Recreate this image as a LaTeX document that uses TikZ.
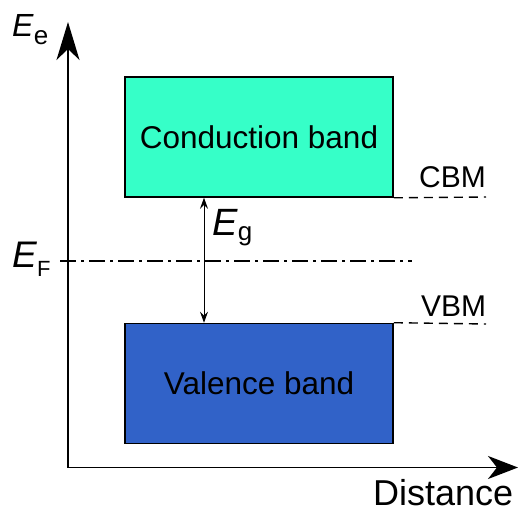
\documentclass[tikz,border=0pt]{standalone}
\usepackage{fontspec}
\setmainfont{Liberation Sans}
\usetikzlibrary{arrows.meta}
\definecolor{cbcolor}{RGB}{54,255,200}
\definecolor{vbcolor}{RGB}{49,98,200}
\tikzset{band/.style={draw=black,line width=1.6pt,minimum width=268pt,minimum height=120pt,inner sep=0pt,font=\fontsize{31.5}{31.5}\selectfont},
  axis/.style={line width=1.8pt},
  lbl/.style={inner sep=0pt,anchor=base west,font=\fontsize{30}{30}\selectfont},
  edge/.style={line width=1.4pt,dash pattern=on 9pt off 6pt}}
% energy symbol: size of E, size of index, drop of index, index
\newcommand{\Eof}[4]{{\fontsize{#1}{#1}\selectfont\textit{E}}\raisebox{-#3pt}{\fontsize{#2}{#2}\selectfont #4}}

\begin{document}
\begin{tikzpicture}[x=1pt,y=-1pt]
  \useasboundingbox (0,0) rectangle (520,513);

  % axes
  \coordinate (origin) at (68,467.5);
  \coordinate (ytip)   at (68,22);
  \coordinate (xtip)   at (518,467.5);
  \draw[axis,-{Stealth[length=38pt,width=23pt,inset=11pt]}] (origin) -- (ytip);
  \draw[axis,-{Stealth[length=30pt,width=23pt,inset=9pt]}] (origin) -- (xtip);

  % bands
  \node[band,fill=cbcolor] (cb) at (259,137)   {Conduction band};
  \node[band,fill=vbcolor] (vb) at (259,383.5) {Valence band};

  % band edges
  \coordinate (cbm) at (486,197);
  \coordinate (vbm) at (486,324);
  \draw[edge] (cb.south east) -- (cbm);
  \draw[edge] (vb.north east) -- (vbm);
  \node[lbl] (cbmlbl) at (419,188) {CBM};
  \node[lbl] (vbmlbl) at (421,317) {VBM};

  % Fermi level
  \coordinate (fl) at (60,261);
  \coordinate (fr) at (412,261);
  \draw[line width=1.4pt,dash pattern=on 16pt off 5pt on 3pt off 5pt] (fl) -- (fr);
  \node[lbl] (ef) at (12,268) {\Eof{37}{22}{9}{F}};

  % gap
  \coordinate (gx) at (204,0);
  \draw[line width=0.9pt,{Stealth[length=11pt,width=8pt,inset=4pt]}-{Stealth[length=11pt,width=8pt,inset=4pt]}] (cb.south -| gx) -- (vb.north -| gx);
  \node[lbl] (eg) at (212,236) {\Eof{38}{26}{5}{g}};

  \node[lbl] (ee) at (12,37) {\Eof{32}{26}{8}{e}};
  \node[lbl,font=\fontsize{36}{36}\selectfont] (dist) at (373,505) {Distance};
\end{tikzpicture}
\end{document}
